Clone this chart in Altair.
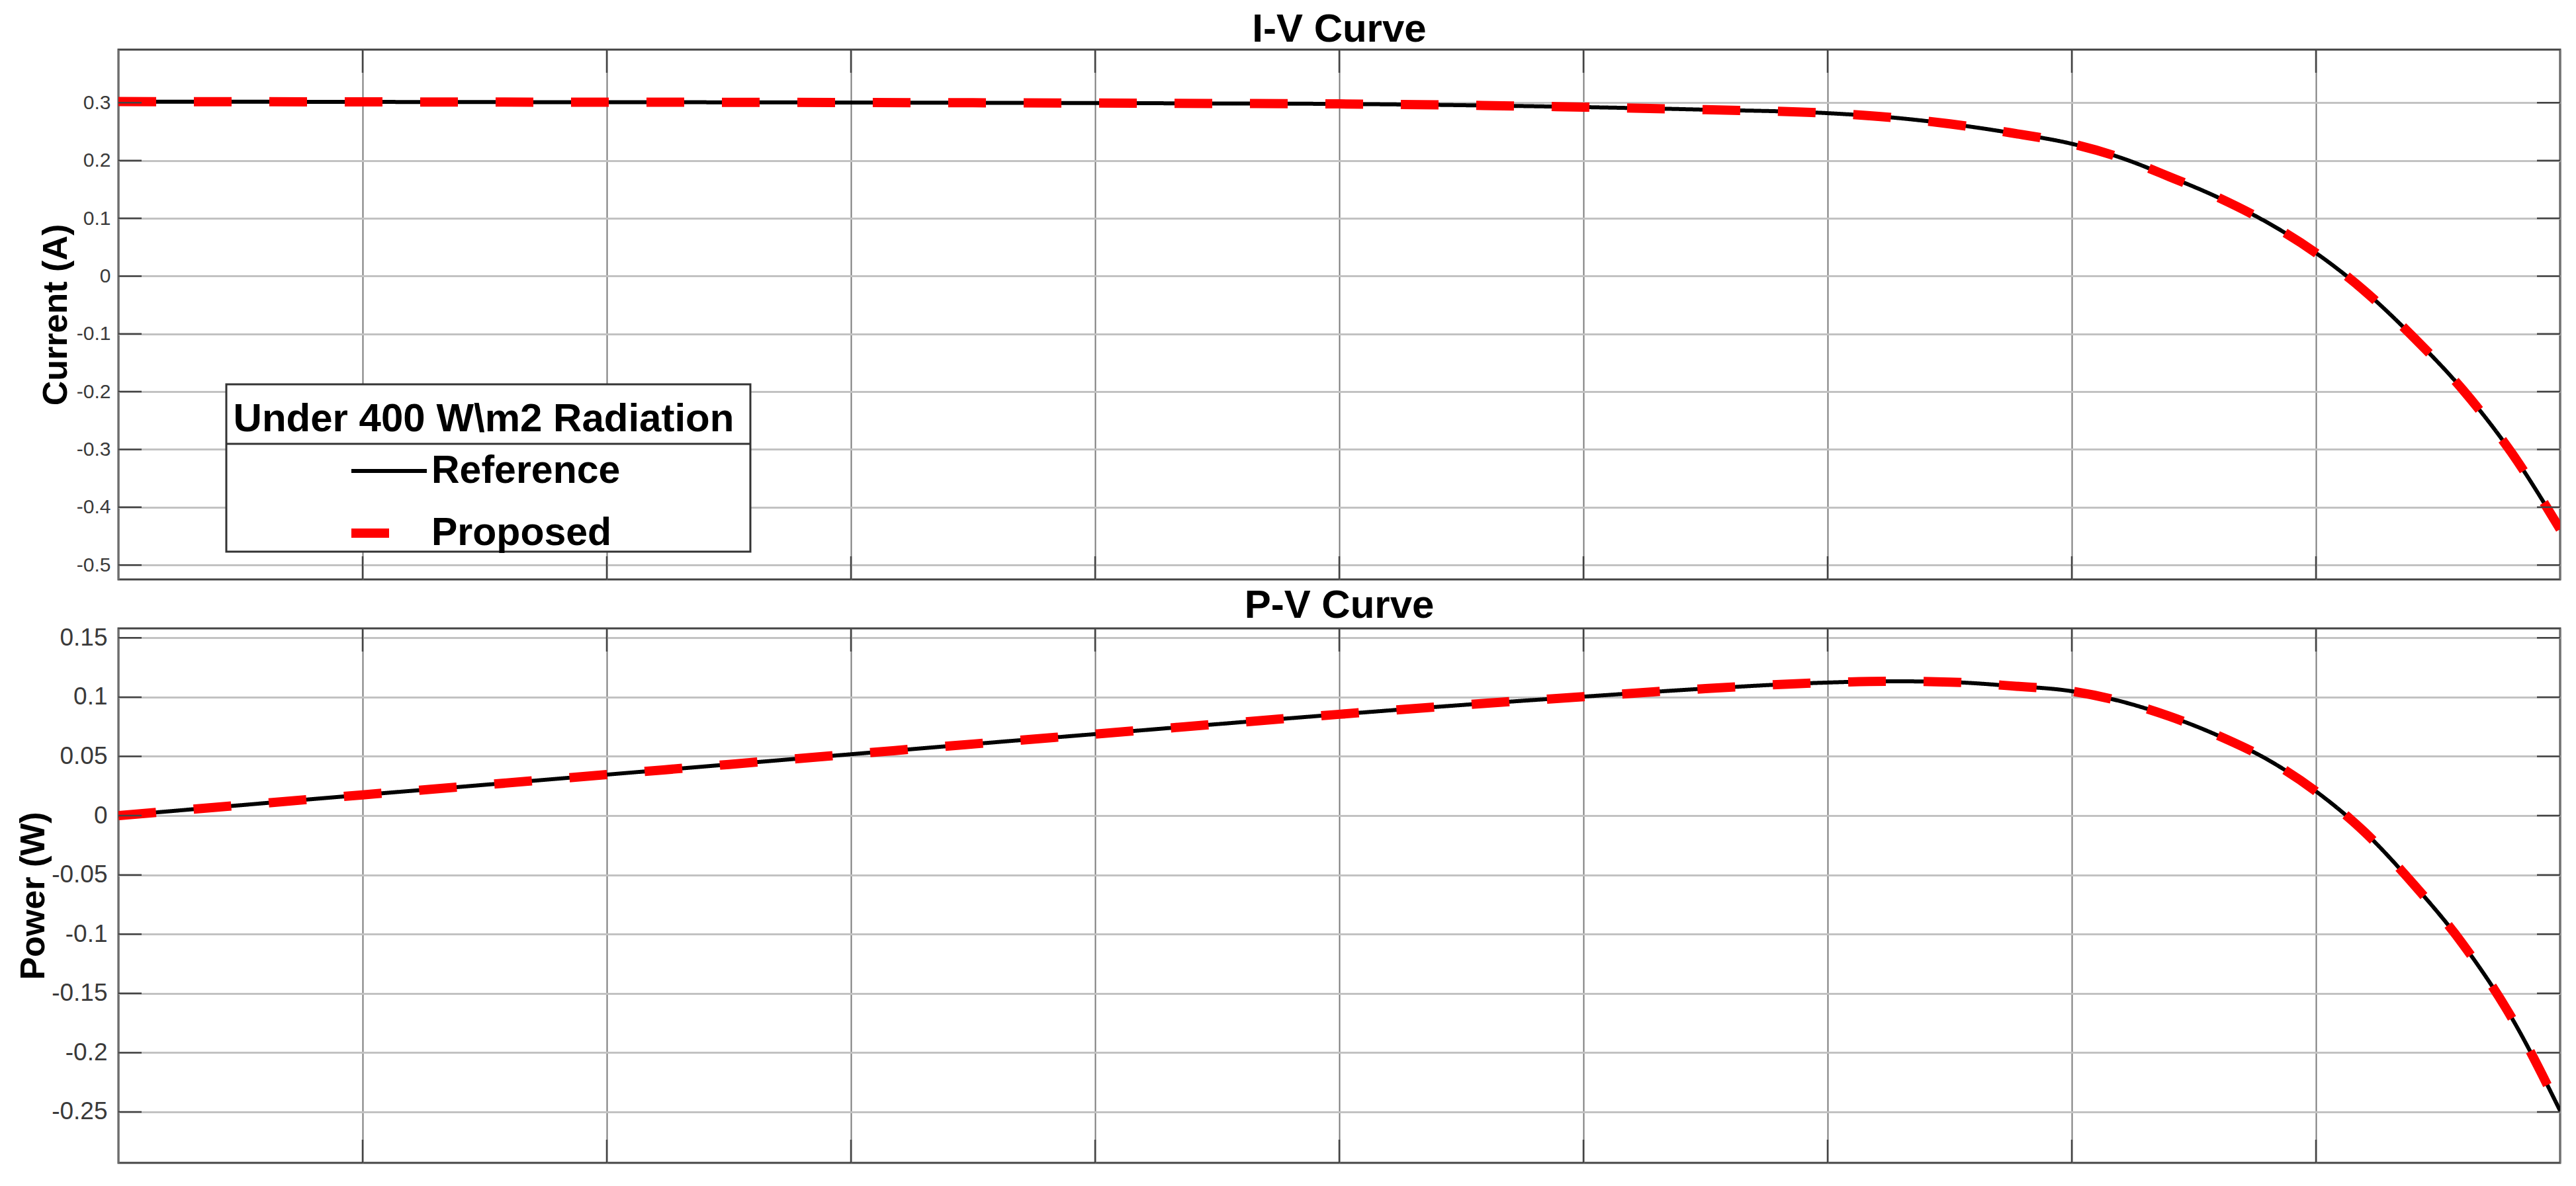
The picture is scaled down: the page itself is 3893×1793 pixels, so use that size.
import altair as alt
import pandas as pd

# ---- data ----
voltage = [0, 0.0285, 0.057, 0.0855, 0.114, 0.1425, 0.171, 0.1995, 0.228, 0.2565,
           0.285, 0.3135, 0.342, 0.3705, 0.399, 0.41325, 0.4275, 0.44175, 0.456,
           0.4674, 0.4788, 0.4902, 0.5016, 0.513, 0.5244, 0.5358, 0.5472, 0.5586, 0.57]
current_ref = [0.302, 0.3018, 0.3015, 0.3012, 0.301, 0.3008, 0.3005, 0.3, 0.2995, 0.2988,
               0.298, 0.2958, 0.2925, 0.288, 0.282, 0.275, 0.2635, 0.248, 0.229,
               0.205, 0.172, 0.136, 0.093, 0.040, -0.026, -0.106, -0.196, -0.305, -0.438]
current_prop = list(current_ref)
power_ref = [0, 0.0088, 0.0175, 0.026, 0.0346, 0.0432, 0.0518, 0.0604, 0.0688, 0.0772,
             0.0855, 0.0933, 0.1004, 0.1072, 0.1123, 0.1134, 0.1127, 0.1095, 0.105,
             0.0965, 0.0838, 0.0675, 0.0475, 0.0205, -0.014, -0.058, -0.108, -0.17, -0.249]
power_prop = list(power_ref)

series_names = ["Reference", "Proposed"]
x_ticks = [0, 0.057, 0.114, 0.171, 0.228, 0.285, 0.342, 0.399, 0.456, 0.513, 0.57]
iv_ticks = [-0.5, -0.4, -0.3, -0.2, -0.1, 0, 0.1, 0.2, 0.3]
pv_ticks = [-0.25, -0.2, -0.15, -0.1, -0.05, 0, 0.05, 0.1, 0.15]
legend_title = "Under 400 W\\m2 Radiation"

W = 3690
H_TOP = 801
H_BOT = 808
TICK = 35

# legend box (pixels inside the top plot area)
LB_X, LB_X2, LB_Y, LB_Y2, LB_SEP = 163, 955, 506, 759, 596

iv_df = pd.concat([
    pd.DataFrame({"V": voltage, "val": current_ref, "series": series_names[0]}),
    pd.DataFrame({"V": voltage, "val": current_prop, "series": series_names[1]}),
])
pv_df = pd.concat([
    pd.DataFrame({"V": voltage, "val": power_ref, "series": series_names[0]}),
    pd.DataFrame({"V": voltage, "val": power_prop, "series": series_names[1]}),
])

FONT = "Liberation Sans"
label_expr = "(datum.value < 0 ? '-' : '') + format(abs(datum.value), '.2~f')"


def panel(df, yticks, ydomain, ytitle, title, height, show_legend, lab_size, lab_pad, tit_pad):
    xs = alt.X("V:Q", scale=alt.Scale(domain=[0, 0.57], nice=False, zero=False),
               axis=alt.Axis(values=x_ticks, labels=False, ticks=False, domain=False,
                             title=None, grid=True, gridColor="#7a7a7a", gridWidth=2,
                             minExtent=0, maxExtent=0))
    ys = alt.Y("val:Q", scale=alt.Scale(domain=ydomain, nice=False, zero=False),
               axis=alt.Axis(values=yticks, title=ytitle, grid=True, gridColor="#c2c2c2",
                             gridWidth=3, ticks=False, domain=False, labelPadding=lab_pad,
                             labelExpr=label_expr, labelFontSize=lab_size, labelFont=FONT,
                             labelColor="#3a3a3a", titleFontSize=52, titleFont=FONT,
                             titleFontWeight="bold", titleColor="black",
                             titlePadding=tit_pad))
    if show_legend:
        leg = alt.Legend(orient="none", legendX=174, legendY=530,
                         title=legend_title, titleFontSize=60,
                         titleFont=FONT, titleFontWeight="bold", titleColor="black",
                         titleAnchor="middle", titleAlign="center", titlePadding=-13,
                         titleLimit=2000, labelFontSize=59, labelFont=FONT,
                         labelFontWeight="bold", labelColor="black", labelLimit=2000,
                         labelOffset=0, symbolType="stroke", symbolSize=12996,
                         symbolOffset=0, rowPadding=0, padding=0)
    else:
        leg = None
    color = alt.Color("series:N", scale=alt.Scale(domain=series_names, range=["black", "red"]),
                      legend=leg)
    dash = alt.StrokeDash("series:N", scale=alt.Scale(domain=series_names,
                                                      range=[[1, 0], [57, 57]]), legend=leg)
    sw = alt.StrokeWidth("series:N", scale=alt.Scale(domain=series_names, range=[6, 14]),
                         legend=leg)

    ref_line = alt.Chart(df[df.series == "Reference"]).mark_line(
        interpolate="monotone", clip=True, strokeCap="butt").encode(
        x=xs, y=ys, color=color, strokeDash=dash, strokeWidth=sw)
    prop_line = alt.Chart(df[df.series == "Proposed"]).mark_line(
        interpolate="monotone", clip=True, strokeCap="butt").encode(
        x="V:Q", y="val:Q", color=color, strokeDash=dash, strokeWidth=sw)

    ytick_df = pd.DataFrame({"t": yticks})
    xtick_df = pd.DataFrame({"t": x_ticks[1:-1]})
    tick_style = dict(color="#444444", strokeWidth=2.5)
    left_t = alt.Chart(ytick_df).mark_rule(**tick_style).encode(
        y="t:Q", x=alt.value(0), x2=alt.value(TICK))
    right_t = alt.Chart(ytick_df).mark_rule(**tick_style).encode(
        y="t:Q", x=alt.value(W - TICK), x2=alt.value(W))
    top_t = alt.Chart(xtick_df).mark_rule(**tick_style).encode(
        x="t:Q", y=alt.value(0), y2=alt.value(TICK))
    bot_t = alt.Chart(xtick_df).mark_rule(**tick_style).encode(
        x="t:Q", y=alt.value(height - TICK), y2=alt.value(height))
    layers = [ref_line, prop_line, left_t, right_t, top_t, bot_t]

    if show_legend:
        box_df = pd.DataFrame({"name": [legend_title]})
        box = alt.Chart(box_df).mark_rect(fill="white", stroke="#333333", strokeWidth=3).encode(
            x=alt.value(LB_X), x2=alt.value(LB_X2), y=alt.value(LB_Y), y2=alt.value(LB_Y2))
        sep = alt.Chart(box_df).mark_rule(color="#333333", strokeWidth=3).encode(
            x=alt.value(LB_X), x2=alt.value(LB_X2), y=alt.value(LB_SEP))
        layers += [box, sep]

    return alt.layer(*layers).properties(
        width=W, height=height,
        title=alt.Title(title, fontSize=60, font=FONT, fontWeight="bold", color="black",
                        anchor="middle", offset=-2))


top = panel(iv_df, iv_ticks, [-0.525, 0.392], "Current (A)", "I-V Curve", H_TOP, True,
            30, 12, 4)
bot = panel(pv_df, pv_ticks, [-0.293, 0.158], "Power (W)", "P-V Curve", H_BOT, False,
            37, 17, 0)

chart = alt.vconcat(top, bot, spacing=5).resolve_legend(
    color="independent", strokeDash="independent", strokeWidth="independent"
).resolve_scale(y="independent").configure_view(
    stroke="#444444", strokeWidth=3
).properties(padding={"left": 15, "top": 5, "right": 0, "bottom": 0}, background="white")

chart.save("out.html", embed_options={"renderer": "svg", "actions": False})
